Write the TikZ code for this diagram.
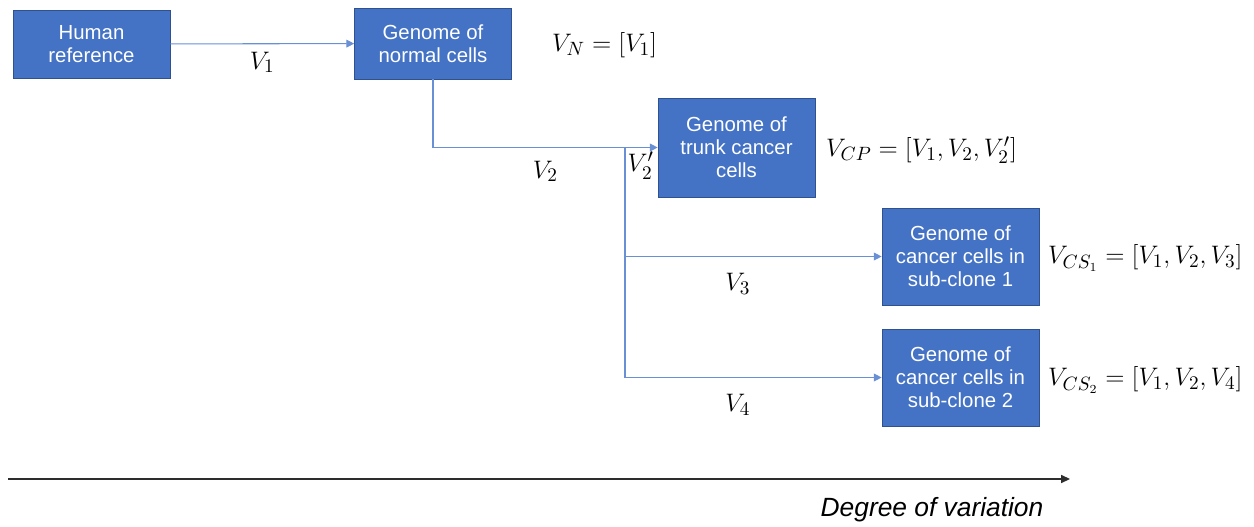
\documentclass[tikz,border=0pt]{standalone}
\usepackage{fontspec}
\setmainfont{Liberation Sans}
\usepackage{amsmath}
\usetikzlibrary{arrows.meta, positioning}
\definecolor{boxblue}{RGB}{68,114,196}
\definecolor{boxedge}{RGB}{47,82,143}
\definecolor{linkblue}{RGB}{105,143,212}
\definecolor{axisgray}{RGB}{45,45,45}
\tikzset{
  genome/.style={draw=boxedge, fill=boxblue, text=white, align=center,
    minimum width=3.14cm, inner sep=2pt, font=\fontsize{11.6}{13}\selectfont},
  link/.style={draw=linkblue, line width=0.6pt, -{Triangle[length=4.5pt, width=4.5pt]}},
  lbl/.style={font=\fontsize{15}{18}\selectfont},
}

\begin{document}
\begin{tikzpicture}[x=0.02cm, y=-0.02cm, >=Stealth]
  \useasboundingbox (0,0) rectangle (1254,527);
  % genome boxes
  \node[genome, minimum height=1.36cm] (ref) at (91.5,44) {Human\\reference};
  \node[genome, minimum height=1.42cm] (normal) at (433,43.5) {Genome of\\normal cells};
  \node[genome, minimum height=1.98cm] (trunk) at (736.5,147.5) {Genome of\\trunk cancer\\cells};
  \node[genome, minimum height=1.94cm] (sub1) at (960.5,256.5) {Genome of\\cancer cells in\\sub-clone 1};
  \node[genome, minimum height=1.94cm] (sub2) at (960.5,377.5) {Genome of\\cancer cells in\\sub-clone 2};

  % variant sets
  \draw[link] (ref) -- (normal) node[lbl, midway, below=1pt] {$V_1$};
  \draw[link] (normal.south) |- (trunk.west) node[lbl, pos=0.75, below=4pt] {$V_2$};
  \coordinate (fork) at (625,147.5);
  \node[lbl, below right=-1pt and -2pt of fork] (v2p) {$V_2'$};
  \draw[link] (fork) |- (sub1.west) node[lbl, pos=0.72, below=6pt] {$V_3$};
  \draw[link] (fork) |- (sub2.west) node[lbl, pos=0.72, below=6pt] {$V_4$};

  % equations
  \node[lbl, anchor=west] (eqn) at (546,45) {$V_N=[V_1]$};
  \node[lbl, anchor=west] (eqcp) at (820,150) {$V_{CP}=[V_1,V_2,V_2']$};
  \node[lbl, anchor=west] (eqcs1) at (1042,258) {$V_{CS_1}=[V_1,V_2,V_3]$};
  \node[lbl, anchor=west] (eqcs2) at (1042,380) {$V_{CS_2}=[V_1,V_2,V_4]$};

  % axis
  \coordinate (axl) at (8,479);
  \coordinate (axr) at (1070,479);
  \draw[axisgray, line width=0.8pt, -{Triangle[length=5pt, width=4.5pt]}] (axl) -- (axr);
  \node[font=\fontsize{15}{17}\selectfont\itshape] (axlabel) at (932,510) {Degree of variation};
\end{tikzpicture}
\end{document}
